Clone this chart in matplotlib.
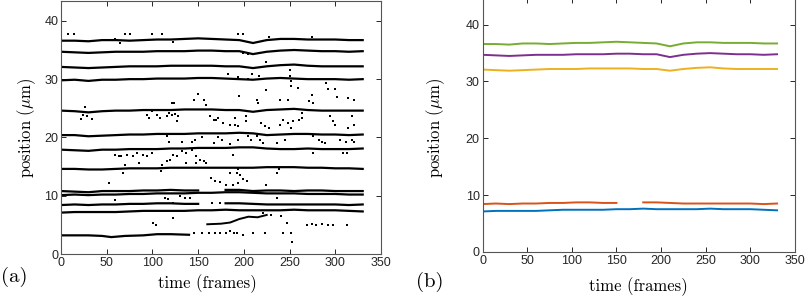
import matplotlib
matplotlib.use('agg')
import matplotlib.pyplot as plt
import numpy as np

nan = np.nan

# sampled frames shared by the long tracks
frames = [0, 15, 30, 45, 60, 75, 90, 105, 120, 135, 150, 165,
          180, 195, 210, 225, 240, 255, 270, 285, 300, 315, 330]

track_367 = [36.6, 36.6, 36.5, 36.7, 36.7, 36.6, 36.7, 36.8, 36.8, 36.9, 37.0, 36.9,
             36.8, 36.7, 36.2, 36.7, 36.9, 36.9, 36.8, 36.8, 36.8, 36.7, 36.7]
track_347 = [34.7, 34.6, 34.5, 34.6, 34.7, 34.7, 34.7, 34.8, 34.8, 34.8, 34.9, 34.9,
             34.8, 34.8, 34.3, 34.7, 34.9, 35.0, 34.9, 34.8, 34.8, 34.7, 34.8]
track_322 = [32.1, 32.0, 31.9, 32.0, 32.1, 32.2, 32.2, 32.2, 32.3, 32.3, 32.3, 32.3,
             32.2, 32.2, 31.9, 32.2, 32.4, 32.5, 32.3, 32.2, 32.2, 32.2, 32.2]
track_300 = [29.8, 29.9, 29.7, 29.9, 29.9, 30.0, 30.0, 30.1, 30.1, 30.1, 30.2, 30.2,
             30.1, 30.0, 29.9, 30.1, 30.2, 30.1, 30.0, 30.0, 30.0, 29.9, 30.0]
track_247 = [24.6, 24.5, 24.3, 24.5, 24.6, 24.6, 24.7, 24.7, 24.7, 24.8, 24.8, 24.8,
             24.7, 24.7, 24.4, 24.7, 24.8, 24.9, 24.7, 24.6, 24.6, 24.6, 24.6]
track_205 = [20.4, 20.4, 20.2, 20.3, 20.4, 20.5, 20.5, 20.6, 20.6, 20.6, 20.7, 20.7,
             20.7, 20.8, 20.7, 20.4, 20.5, 20.6, 20.6, 20.5, 20.5, 20.4, 20.5]
track_180 = [17.9, 17.8, 17.7, 17.9, 17.9, 18.0, 18.0, 18.0, 18.1, 18.1, 18.2, 18.2,
             18.2, 18.3, 18.3, 18.1, 18.0, 18.0, 18.1, 18.0, 18.0, 18.0, 18.1]
track_147 = [14.6, 14.6, 14.5, 14.5, 14.6, 14.7, 14.7, 14.7, 14.8, 14.8, 14.8, 14.8,
             14.8, 14.8, 14.8, 14.9, 14.9, 14.9, 14.8, 14.8, 14.7, 14.7, 14.6]
track_108 = [10.8, 10.7, 10.6, 10.8, 10.8, 10.8, 10.9, 10.9, 11.0, 10.9, 10.9, nan,
             11.0, 11.0, 10.8, 10.9, 10.9, 10.8, 10.9, 10.9, 10.8, 10.8, 10.8]
track_102 = [10.1, 10.2, 10.1, 10.2, 10.2, 10.3, 10.3, 10.4, 10.4, 10.4, 10.5, 10.5,
             10.6, 10.6, 10.5, 10.4, 10.4, 10.4, 10.3, 10.3, 10.3, 10.2, 10.2]
track_085 = [8.4, 8.5, 8.4, 8.5, 8.5, 8.6, 8.6, 8.7, 8.7, 8.6, 8.6, nan,
             8.7, 8.7, 8.6, 8.5, 8.5, 8.5, 8.5, 8.5, 8.5, 8.4, 8.5]
track_073 = [7.1, 7.2, 7.2, 7.2, 7.2, 7.3, 7.4, 7.4, 7.4, 7.4, 7.5, 7.5,
             7.6, 7.5, 7.5, 7.5, 7.5, 7.6, 7.5, 7.5, 7.5, 7.4, 7.3]

# short tracks
low_frames = [0, 15, 30, 45, 55, 70, 90, 105, 120, 140]
low_vals = [3.2, 3.2, 3.2, 3.1, 2.9, 3.1, 3.2, 3.4, 3.4, 3.3]
mid_frames = [160, 175, 185, 195, 205, 215, 225]
mid_vals = [5.1, 5.2, 5.4, 6.0, 6.4, 6.3, 6.7]

# stray detections
stray_x = [8, 14, 70, 75, 59, 65, 100, 111, 123, 194, 199, 227, 274, 199, 205, 224,
           183, 194, 209, 217, 205, 252, 252, 250, 250, 259, 290, 292, 300, 302, 314, 321,
           224, 274, 195, 145, 150, 156, 159, 121, 124, 239, 248, 214, 216, 271, 276, 264,
           26, 24, 28, 34, 22, 94, 96, 99, 105, 108, 116, 118, 121, 125, 128, 127,
           163, 167, 170, 172, 177, 185, 190, 194, 190, 202, 202, 219, 223, 227,
           239, 243, 248, 252, 254, 260, 264, 294, 298, 300, 318, 320, 314,
           116, 118, 132, 143, 147, 154, 167, 172, 176, 185, 194, 199, 205, 208, 214, 218,
           221, 236, 245, 276, 282, 286, 289, 305, 312, 318, 321,
           59, 63, 66, 72, 79, 83, 90, 94, 99, 123, 127, 132, 137, 143, 148, 152,
           188, 308, 313, 276, 70, 68, 85, 110, 116, 119, 137, 148, 156, 159, 109,
           185, 192, 194, 236, 238, 234, 164, 168, 174, 181, 188, 194, 196, 199, 203, 52,
           224, 114, 117, 130, 136, 141, 123, 59, 236, 165, 174, 123, 101, 104,
           241, 247, 243, 252, 253, 145, 154, 162, 168, 174, 180, 185, 189, 192, 199,
           210, 223, 269, 274, 279, 285, 292, 313, 298, 221, 230]
stray_y = [37.8, 37.8, 37.8, 37.8, 36.9, 36.2, 37.8, 37.8, 36.4, 37.8, 37.8, 37.2, 37.3,
           34.5, 34.4, 32.9, 30.8, 30.4, 30.9, 30.6, 30.0, 28.9, 29.6, 30.5, 31.5, 28.5,
           29.4, 28.3, 28.3, 27.0, 26.8, 26.5, 28.2, 27.2, 27.1, 26.4, 27.5, 26.5, 25.6,
           25.9, 25.9, 26.5, 26.4, 26.4, 25.9, 26.2, 25.9, 24.2,
           25.3, 23.9, 23.6, 23.2, 23.2, 23.9, 23.3, 24.5, 23.9, 23.3, 23.6, 24.2, 23.9,
           24.0, 23.6, 22.8,
           23.6, 23.0, 23.0, 23.3, 22.5, 22.2, 22.2, 22.0, 23.4, 23.6, 22.8, 22.5, 21.9,
           21.7, 22.2, 23.0, 22.4, 21.6, 22.8, 23.0, 23.4, 23.7, 22.8, 22.2, 23.6, 22.2,
           21.6,
           20.2, 19.3, 19.3, 19.3, 19.6, 20.1, 19.0, 20.1, 19.6, 18.8, 19.6, 20.8, 20.2,
           19.6, 20.2, 19.6, 19.0, 19.0, 19.6, 20.2, 19.6, 19.3, 19.0, 19.6, 19.3, 19.6,
           19.3,
           17.0, 16.8, 16.8, 17.0, 16.8, 17.3, 17.0, 16.8, 17.3, 17.0, 16.8, 17.6, 17.3,
           17.9, 16.8, 16.2,
           17.0, 17.3, 17.3, 17.3, 15.3, 13.9, 15.6, 15.3, 15.9, 16.2, 15.6, 15.6, 15.9,
           15.6, 14.2,
           13.9, 13.9, 14.5, 13.9, 14.5, 15.0, 13.0, 12.5, 12.3, 11.9, 11.9, 12.2, 13.6,
           12.8, 12.5, 12.2,
           11.9, 9.6, 9.4, 9.9, 9.6, 9.6, 8.7, 9.3, 9.6, 8.7, 8.7, 6.2, 5.3, 5.0,
           6.5, 5.3, 3.6, 3.6, 2.0, 3.6, 3.6, 3.6, 3.6, 3.6, 3.6, 3.9, 3.6, 3.6, 3.3,
           3.6, 3.6, 5.0, 5.1, 5.0, 5.1, 5.0, 4.9, 5.0, 7.0, 6.7]

long_tracks = [track_367, track_347, track_322, track_300, track_247, track_205,
               track_180, track_147, track_108, track_102, track_085, track_073]

# tracks picked out in panel (b)
picked = [track_367, track_347, track_322, track_085, track_073]
picked_colors = ['#77AC30', '#7E2F8E', '#EDB120', '#D95319', '#0072BD']

xticks = [0, 50, 100, 150, 200, 250, 300, 350]
yticks = [0, 10, 20, 30, 40]

plt.rcParams['mathtext.fontset'] = 'cm'
plt.rcParams['axes.unicode_minus'] = False
tick_font = 'Liberation Sans'
label_font = 'cmr10'

fig = plt.figure(figsize=(8.07, 2.99), dpi=100)
ax_a = fig.add_axes([0.0756, 0.1505, 0.3965, 0.846])
ax_b = fig.add_axes([0.598, 0.158, 0.387, 0.8485])

# (a) all detections
for tr in long_tracks:
    ax_a.plot(frames, tr, color='k', linewidth=1.6)
ax_a.plot(low_frames, low_vals, color='k', linewidth=1.6)
ax_a.plot(mid_frames, mid_vals, color='k', linewidth=1.4)
ax_a.plot(stray_x, stray_y, 's', color='k', markersize=1.9, markeredgewidth=0)

# (b) selected tracks
for tr, c in zip(picked, picked_colors):
    ax_b.plot(frames, tr, color=c, linewidth=1.4)

for ax, ytop in [(ax_a, 43.4), (ax_b, 44.7)]:
    ax.set_xlim(0, 350)
    ax.set_ylim(0, ytop)
    ax.set_xticks(xticks)
    ax.set_yticks(yticks)
    ax.tick_params(direction='in', length=3.5, width=0.7, top=True, right=True,
                   labelsize=9, colors='#262626', pad=2)
    for lab in ax.get_xticklabels() + ax.get_yticklabels():
        lab.set_family(tick_font)
    for s in ax.spines.values():
        s.set_color('#555555')
        s.set_linewidth(0.8)
    ax.set_xlabel('time (frames)', family=label_font, fontsize=12)
    ax.set_ylabel(r'position ($\mu$m)', family=label_font, fontsize=12)

ax_a.xaxis.set_label_coords(0.457, -0.079)
ax_a.yaxis.set_label_coords(-0.072, 0.5)
ax_b.xaxis.set_label_coords(0.5, -0.099)
ax_b.yaxis.set_label_coords(-0.114, 0.49)

fig.text(0.018, 0.073, '(a)', family=label_font, fontsize=15, va='center', ha='center')
fig.text(0.533, 0.057, '(b)', family=label_font, fontsize=15, va='center', ha='center')

plt.savefig('out.png', dpi=100)
